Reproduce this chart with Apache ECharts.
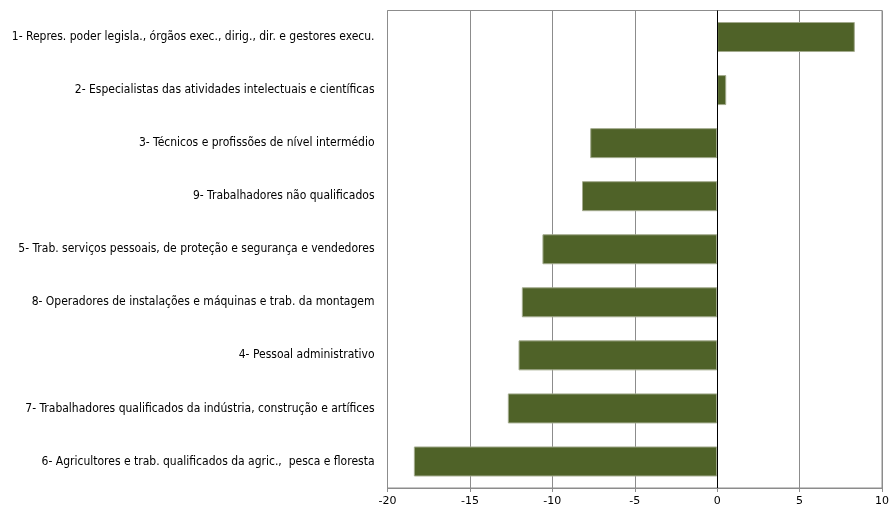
<!DOCTYPE html>
<html><head><meta charset="utf-8">
<script src="https://cdn.jsdelivr.net/npm/echarts@6/dist/echarts.min.js"></script>
<style>html,body{margin:0;padding:0;background:#fff;overflow:hidden}#c{width:892px;height:513px}</style>
</head><body><div id="c"></div>
<script>
const categories = [
  "1- Repres. poder legisla., órgãos exec., dirig., dir. e gestores execu.",
  "2- Especialistas das atividades intelectuais e científicas",
  "3- Técnicos e profissões de nível intermédio",
  "9- Trabalhadores não qualificados",
  "5- Trab. serviços pessoais, de proteção e segurança e vendedores",
  "8- Operadores de instalações e máquinas e trab. da montagem",
  "4- Pessoal administrativo",
  "7- Trabalhadores qualificados da indústria, construção e artífices",
  "6- Agricultores e trab. qualificados da agric.,  pesca e floresta"
];
const values = [8.35, 0.55, -7.7, -8.2, -10.6, -11.85, -12.05, -12.7, -18.4];
const xTicks = { min: -20, max: 10, interval: 5 };

const chart = echarts.init(document.getElementById('c'), null, { width: 892, height: 513 });
chart.setOption({
  animation: false,
  grid: { left: 387.5, right: 6.5, top: 10.5, bottom: 25, show: true, borderColor: '#8c8c8c', borderWidth: 1 },
  xAxis: {
    type: 'value', min: xTicks.min, max: xTicks.max, interval: xTicks.interval,
    axisLine: { show: true, lineStyle: { color: '#8c8c8c' } },
    axisTick: { show: true, length: 4, lineStyle: { color: '#8c8c8c' } },
    axisLabel: { color: '#000', fontFamily: 'DejaVu Sans', fontSize: 11, margin: 8 },
    splitLine: { show: true, lineStyle: { color: '#8c8c8c', width: 1 } }
  },
  yAxis: {
    type: 'category', data: categories, inverse: true,
    axisLine: { show: false }, axisTick: { show: false },
    axisLabel: { color: '#000', fontFamily: 'DejaVu Sans Condensed', fontSize: 12, margin: 13 }
  },
  series: [{
    type: 'bar', data: values, barWidth: 30,
    itemStyle: { color: '#4f6228', borderColor: '#a3ab8e', borderWidth: 1 },
    markLine: {
      silent: true, symbol: 'none', label: { show: false },
      lineStyle: { color: '#000', width: 1, type: 'solid' },
      data: [{ xAxis: 0 }]
    }
  }]
});
</script></body></html>
